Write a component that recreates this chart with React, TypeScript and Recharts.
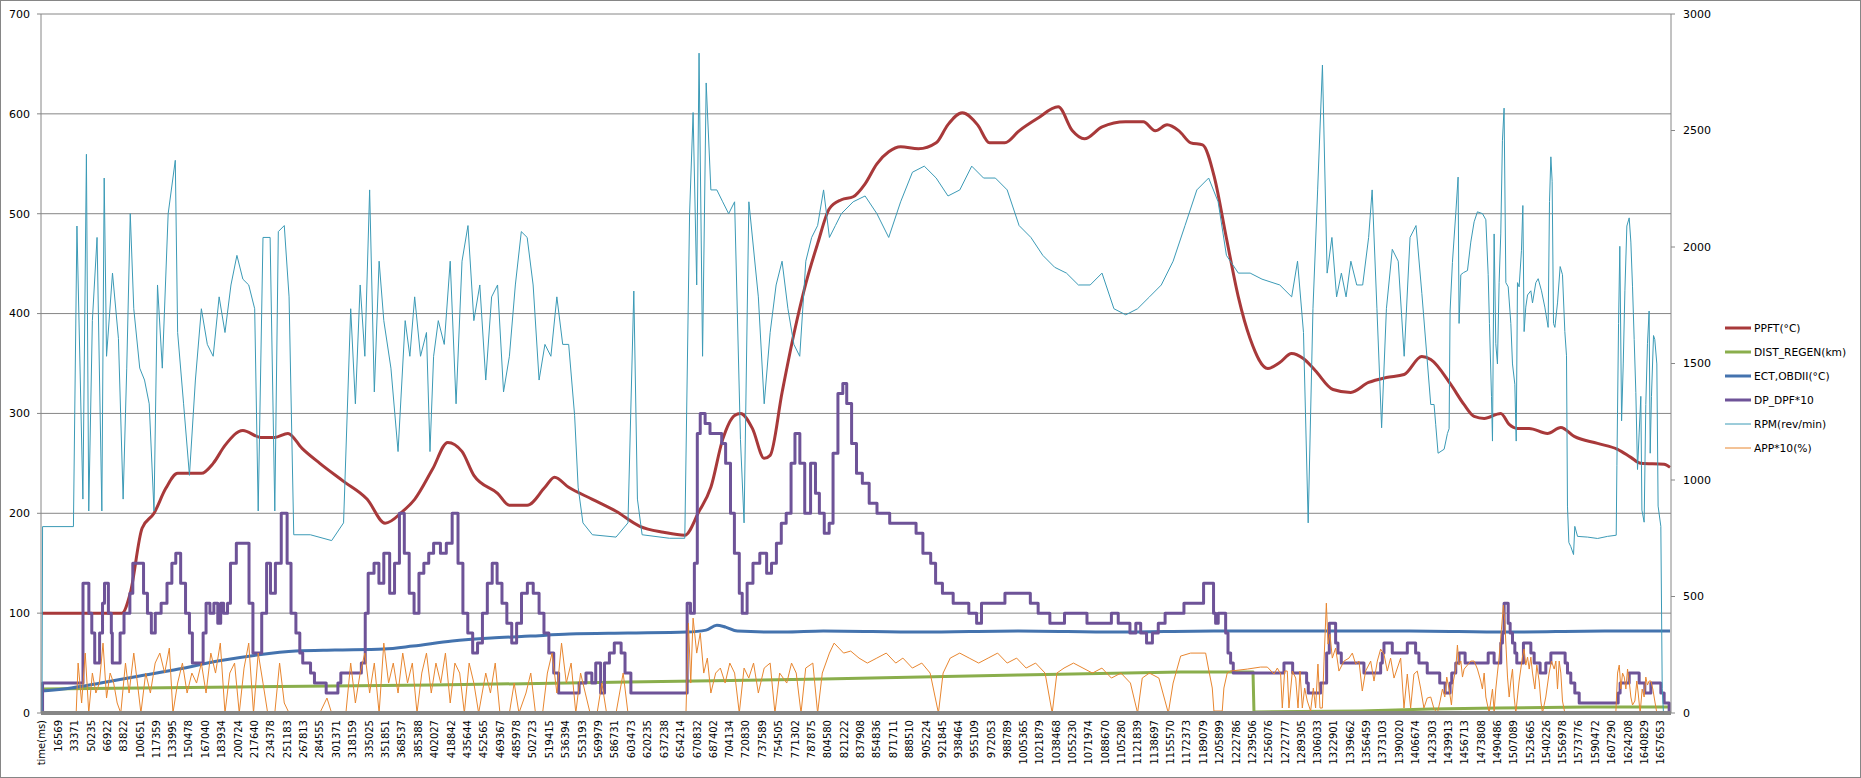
import React from 'react';
import { LineChart, Line, XAxis, YAxis, CartesianGrid, Legend } from 'recharts';

type Pt = [number, number];

// category labels of the time axis (ms); the first one is the header cell
const tickTimes = [
  0, 16569, 33371, 50235, 66922, 83822, 100651, 117359, 133995, 150478, 167040, 183934, 200724,
  217640, 234378, 251183, 267813, 284555, 301371, 318159, 335025, 351851, 368537, 385388, 402027,
  418842, 435644, 452565, 469367, 485978, 502723, 519415, 536394, 553193, 569979, 586731, 603473,
  620235, 637238, 654214, 670832, 687402, 704134, 720830, 737589, 754505, 771302, 787875, 804580,
  821222, 837908, 854836, 871711, 888510, 905224, 921845, 938464, 955109, 972053, 988789, 1005365,
  1021879, 1038468, 1055230, 1071974, 1088670, 1105280, 1121839, 1138697, 1155570, 1172373, 1189079,
  1205899, 1222786, 1239506, 1256076, 1272777, 1289305, 1306033, 1322901, 1339662, 1356459, 1373103,
  1390020, 1406674, 1423303, 1439913, 1456713, 1473808, 1490486, 1507089, 1523665, 1540226, 1556978,
  1573776, 1590472, 1607290, 1624208, 1640829, 1657653,
];
const headerLabel = 'time(ms)';

const leftTicks = [0, 100, 200, 300, 400, 500, 600, 700];
const rightTicks = [0, 500, 1000, 1500, 2000, 2500, 3000];

// [time ms, value]
const ppftPoints: Pt[] = [
  [0, 100], [81900, 100], [90400, 120], [102500, 185], [114700, 200], [126800, 225], [138900, 240],
  [151000, 240], [163200, 240], [175300, 250], [187400, 268], [205700, 283], [223800, 276],
  [238400, 276], [251800, 280], [266300, 265], [284500, 250], [308800, 232], [333000, 214],
  [351300, 190], [369400, 202], [381600, 214], [399800, 244], [415500, 271], [430000, 262],
  [442200, 238], [466500, 220], [478600, 208], [496800, 208], [515000, 226], [524800, 236],
  [539300, 226], [563600, 214], [587800, 202], [612100, 187], [636400, 181], [658200, 178],
  [672800, 202], [684900, 226], [697000, 274], [709200, 298], [715200, 300], [727400, 285],
  [739500, 255], [745600, 258], [757800, 321], [770000, 380], [782100, 430], [794200, 470],
  [806200, 505], [818500, 514], [830600, 517], [842800, 530], [854900, 550], [867000, 562],
  [879200, 567], [897400, 565], [915600, 571], [927500, 589], [942300, 601], [958000, 589],
  [970200, 571], [985900, 571], [1000500, 583], [1018700, 595], [1040600, 607], [1055100, 583],
  [1067300, 575], [1085500, 587], [1109500, 592], [1127700, 592], [1139900, 583], [1152000, 589],
  [1164200, 583], [1176300, 571], [1188400, 569], [1200600, 536], [1212700, 476], [1224900, 417],
  [1237000, 375], [1255200, 345], [1267400, 351], [1279500, 360], [1291500, 355], [1303700, 343],
  [1321900, 324], [1340100, 321], [1358300, 331], [1376500, 336], [1394700, 339], [1412800, 357],
  [1422000, 354], [1442500, 329], [1456000, 309], [1466400, 297], [1476700, 295], [1493700, 300],
  [1502300, 289], [1510800, 285], [1522800, 285], [1541500, 280], [1555200, 286], [1568900, 277],
  [1592800, 270], [1613300, 264], [1626900, 256], [1637100, 250], [1661000, 249], [1667000, 246],
];

const distRegenPoints: Pt[] = [
  [0, 24], [200000, 26], [400000, 28], [600000, 31], [800000, 34], [1000000, 38], [1166000, 41],
  [1240000, 41], [1241000, 1], [1350000, 2], [1422000, 4], [1490000, 5], [1582000, 6], [1667000, 6],
];

const ectPoints: Pt[] = [
  [0, 22], [30000, 25], [60000, 30], [100000, 37], [140000, 44], [180000, 52], [220000, 58],
  [260000, 62], [300000, 63], [350000, 64], [380000, 67], [420000, 72], [460000, 75], [500000, 77],
  [540000, 79], [600000, 80], [660000, 81], [680000, 83], [691000, 88], [700000, 86], [712000, 82],
  [760000, 81], [800000, 82], [900000, 81], [1000000, 82], [1100000, 81], [1200000, 82],
  [1300000, 82], [1400000, 82], [1500000, 81], [1600000, 82], [1667000, 82],
];

const dpDpfPoints: Pt[] = [
  [0, 0], [600, 30], [42000, 130], [48000, 100], [51000, 80], [54000, 50], [59000, 80], [62000, 110],
  [64000, 130], [68000, 100], [71000, 80], [72000, 50], [80000, 80], [84000, 100], [90000, 120],
  [93000, 150], [104000, 120], [108000, 100], [112000, 80], [116000, 100], [122000, 110],
  [128000, 130], [133000, 150], [137000, 160], [142000, 130], [147000, 100], [151000, 80],
  [154000, 50], [165000, 80], [168000, 110], [172000, 100], [176000, 110], [180000, 90],
  [183000, 110], [186000, 100], [190000, 110], [193000, 150], [199000, 170], [212000, 110],
  [216000, 60], [225000, 100], [230000, 150], [234000, 120], [239000, 150], [245000, 200],
  [251000, 150], [255000, 100], [260000, 80], [264000, 60], [267000, 50], [275000, 40],
  [279000, 30], [291000, 20], [303000, 30], [306000, 40], [327000, 50], [331000, 100],
  [334000, 140], [340000, 150], [345000, 130], [350000, 160], [356000, 120], [361000, 150],
  [366000, 200], [371000, 160], [376000, 120], [381000, 100], [386000, 140], [391000, 150],
  [396000, 160], [401000, 170], [408000, 160], [414000, 170], [420000, 200], [426000, 150],
  [431000, 100], [436000, 80], [441000, 60], [446000, 70], [451000, 100], [456000, 130],
  [461000, 150], [466000, 130], [471000, 110], [476000, 90], [481000, 70], [486000, 90],
  [491000, 120], [497000, 130], [503000, 120], [509000, 100], [514000, 80], [519000, 60],
  [524000, 40], [529000, 20], [550000, 30], [557000, 40], [563000, 30], [567000, 50], [572000, 20],
  [576000, 50], [581000, 60], [586000, 70], [593000, 60], [597000, 40], [603000, 20], [660600, 110],
  [664000, 100], [668000, 150], [671000, 280], [674000, 300], [679000, 290], [684000, 280],
  [696000, 270], [700000, 250], [705000, 200], [709000, 160], [714000, 120], [717000, 100],
  [722000, 130], [728000, 150], [735000, 160], [742000, 140], [747000, 150], [752000, 170],
  [757000, 190], [762000, 200], [767000, 250], [771000, 280], [776000, 250], [781000, 200],
  [787000, 250], [792000, 220], [796000, 200], [801000, 180], [806000, 190], [810000, 260],
  [815000, 320], [820000, 330], [824000, 310], [829000, 270], [834000, 240], [840000, 230],
  [847000, 210], [855000, 200], [868000, 190], [895000, 180], [902000, 160], [910000, 150],
  [915000, 130], [922000, 120], [933000, 110], [949000, 100], [957000, 90], [962000, 110],
  [986000, 120], [1012000, 110], [1020000, 100], [1032000, 90], [1047000, 100], [1070000, 90],
  [1095000, 100], [1102000, 90], [1114000, 80], [1120000, 90], [1125000, 80], [1131000, 70],
  [1137000, 80], [1143000, 90], [1150000, 100], [1169300, 110], [1189400, 130], [1199600, 100],
  [1201700, 90], [1204400, 100], [1212000, 80], [1214400, 60], [1217100, 50], [1219800, 40],
  [1271700, 50], [1280600, 40], [1294900, 30], [1296600, 20], [1309200, 30], [1315400, 60],
  [1318100, 90], [1324600, 70], [1327000, 60], [1330400, 50], [1353600, 40], [1370700, 50],
  [1372400, 60], [1374100, 70], [1382600, 60], [1398000, 70], [1406500, 60], [1409900, 50],
  [1418400, 40], [1431200, 30], [1436700, 20], [1441800, 30], [1443500, 40], [1447600, 50],
  [1451000, 60], [1457200, 50], [1480800, 60], [1486900, 50], [1493700, 70], [1495400, 80],
  [1497100, 110], [1501300, 90], [1503300, 80], [1505700, 70], [1508100, 60], [1510100, 50],
  [1516900, 70], [1524500, 60], [1527900, 50], [1534000, 40], [1539800, 50], [1545000, 60],
  [1559600, 50], [1562000, 40], [1565400, 30], [1569500, 20], [1574000, 10], [1613900, 20],
  [1615900, 30], [1625200, 40], [1635400, 30], [1641200, 20], [1647400, 30], [1657600, 20],
  [1661000, 10], [1666100, 0], [1667000, 0],
];

const rpmPoints: Pt[] = [
  [0, 0], [600, 800], [32200, 800], [35800, 2090], [41900, 918], [45500, 2398], [47900, 867],
  [51600, 1684], [56400, 2041], [61300, 867], [63700, 2296], [66100, 1531], [72200, 1888],
  [78300, 1607], [83100, 918], [86800, 1480], [90400, 2143], [94000, 1735], [100100, 1480],
  [105000, 1429], [109800, 1327], [114700, 867], [118300, 1837], [123200, 1480], [129200, 2143],
  [136500, 2372], [138900, 1633], [145000, 1327], [151000, 1020], [157100, 1429], [163200, 1735],
  [169300, 1582], [175300, 1531], [181400, 1786], [187400, 1633], [193500, 1837], [199600, 1964],
  [205700, 1862], [211700, 1837], [217800, 1735], [221400, 867], [226300, 2041], [233600, 2041],
  [238400, 867], [242000, 2066], [248100, 2092], [253000, 1786], [257800, 765], [274800, 765],
  [296600, 740], [308800, 816], [316100, 1735], [320900, 1327], [325800, 1837], [330600, 1531],
  [335500, 2245], [340300, 1378], [345200, 1939], [350000, 1684], [357300, 1480], [364600, 1122],
  [371900, 1684], [376700, 1531], [381600, 1786], [387600, 1531], [393700, 1633], [397300, 1122],
  [401000, 1531], [405800, 1684], [411900, 1582], [418000, 1939], [424000, 1327], [430100, 1939],
  [436200, 2092], [442200, 1684], [448300, 1837], [454400, 1429], [460400, 1786], [466500, 1837],
  [472600, 1378], [478600, 1531], [484700, 1837], [490800, 2066], [496800, 2041], [502900, 1837],
  [509000, 1429], [515000, 1582], [521100, 1531], [527200, 1786], [533200, 1582], [539300, 1582],
  [545400, 1276], [549000, 969], [553900, 816], [563600, 765], [587800, 755], [600000, 816],
  [606000, 1811], [609700, 918], [614500, 765], [642400, 750], [658200, 750], [663100, 2143],
  [666700, 2577], [670400, 1837], [672800, 2832], [676400, 1531], [680100, 2704], [684900, 2245],
  [691000, 2245], [697000, 2194], [703100, 2143], [709200, 2194], [715200, 1173], [718900, 816],
  [723800, 2194], [733500, 1786], [739500, 1327], [745600, 1633], [751700, 1837], [757800, 1939],
  [763800, 1735], [769900, 1582], [775900, 1531], [782100, 1939], [788100, 2041], [794200, 2092],
  [800300, 2245], [806300, 2041], [812400, 2092], [818500, 2143], [830600, 2194], [842800, 2219],
  [854900, 2143], [867000, 2041], [879200, 2194], [891300, 2321], [903400, 2347], [915600, 2296],
  [927700, 2219], [939800, 2245], [952000, 2347], [964100, 2296], [976200, 2296], [988300, 2245],
  [1000500, 2092], [1012600, 2041], [1024800, 1964], [1036900, 1913], [1049000, 1888],
  [1061200, 1837], [1073300, 1837], [1085400, 1888], [1097600, 1735], [1109700, 1709],
  [1121800, 1735], [1134000, 1786], [1146100, 1837], [1158200, 1939], [1170400, 2092],
  [1182500, 2245], [1194600, 2296], [1204300, 2194], [1212800, 1964], [1225000, 1888],
  [1237100, 1888], [1249200, 1862], [1267400, 1837], [1279600, 1786], [1285600, 1939],
  [1291700, 1633], [1296500, 816], [1301400, 1735], [1306200, 2245], [1311100, 2781],
  [1315900, 1888], [1320800, 2041], [1325600, 1786], [1330500, 1888], [1335300, 1786],
  [1340200, 1939], [1346200, 1837], [1352300, 1837], [1358400, 2041], [1362000, 2245],
  [1366900, 1735], [1371700, 1224], [1376600, 1735], [1382600, 1990], [1388700, 1939],
  [1394800, 1531], [1400800, 2041], [1406900, 2092], [1412900, 1800], [1422000, 1324],
  [1425400, 1324], [1427100, 1237], [1429500, 1115], [1435700, 1132], [1439100, 1200],
  [1440800, 1220], [1441800, 1725], [1444200, 1934], [1447600, 2143], [1450000, 2300],
  [1451000, 1672], [1452800, 1881], [1455500, 1890], [1459600, 1899], [1463000, 2021],
  [1466400, 2108], [1469800, 2151], [1475000, 2143], [1478400, 2117], [1480800, 1881],
  [1482100, 1672], [1484200, 1359], [1485200, 1167], [1486900, 2056], [1488600, 1585],
  [1490300, 1498], [1492000, 1847], [1493700, 2056], [1495400, 2456], [1497100, 2596],
  [1498900, 1847], [1501300, 1829], [1504000, 1672], [1505700, 1498], [1508100, 1411],
  [1509500, 1167], [1510800, 1847], [1512500, 1829], [1514900, 1986], [1516300, 2178],
  [1517600, 1637], [1519300, 1742], [1521100, 1794], [1524500, 1812], [1526200, 1760],
  [1529600, 1847], [1532000, 1864], [1535400, 1812], [1538800, 1742], [1542200, 1655],
  [1543600, 2195], [1545000, 2387], [1546300, 2282], [1547700, 1672], [1549100, 1655],
  [1551800, 1760], [1554500, 1916], [1556900, 1881], [1559300, 1637], [1561000, 1533],
  [1562000, 888], [1563400, 732], [1565400, 714], [1568200, 680], [1569500, 801], [1572300, 758],
  [1582500, 755], [1592800, 749], [1603000, 758], [1611900, 763], [1612600, 1063], [1614300, 1672],
  [1615600, 2003], [1617400, 1254], [1619100, 1498], [1620800, 1812], [1622800, 2090],
  [1625200, 2125], [1626900, 2021], [1628600, 1829], [1630300, 1603], [1632000, 1376],
  [1633700, 1045], [1635400, 1202], [1637100, 1359], [1638200, 871], [1640500, 819],
  [1642200, 1324], [1643900, 1585], [1645600, 1725], [1646700, 1115], [1648000, 1359],
  [1650100, 1620], [1651400, 1603], [1653500, 1498], [1654800, 888], [1657600, 801],
  [1659000, 105], [1660300, 0], [1667000, 0],
];

const appPoints: Pt[] = [
  [0, 0], [35000, 0], [37000, 50], [40600, 10], [44300, 60], [47900, 0], [51600, 40], [55200, 20],
  [58800, 30], [62500, 70], [66100, 15], [69800, 40], [73400, 30], [77000, 10], [80700, 0],
  [85500, 50], [89200, 20], [94000, 60], [97700, 30], [101300, 0], [106200, 40], [111000, 20],
  [115900, 50], [120700, 60], [125600, 40], [130400, 65], [134100, 0], [138900, 30], [143800, 50],
  [148600, 20], [153500, 40], [158300, 30], [163200, 50], [168000, 20], [172900, 60], [177700, 40],
  [182600, 70], [187400, 0], [192300, 40], [197200, 50], [202000, 0], [206900, 45], [211700, 70],
  [216600, 0], [221400, 60], [226300, 30], [231100, 0], [238400, 0], [243300, 50], [248100, 10],
  [253000, 0], [284500, 0], [291800, 15], [296600, 0], [311200, 0], [316100, 50], [320900, 10],
  [325800, 40], [330600, 60], [335500, 20], [340300, 50], [345200, 0], [350000, 70], [354900, 30],
  [359700, 50], [364600, 20], [369400, 60], [374300, 30], [379200, 50], [384000, 0], [388900, 40],
  [393700, 60], [398600, 20], [403400, 50], [408300, 30], [413100, 60], [418000, 10], [422800, 50],
  [427700, 40], [432500, 0], [437400, 50], [442200, 30], [447100, 0], [454400, 40], [459200, 20],
  [464100, 50], [468900, 0], [478600, 0], [483500, 30], [488400, 0], [495600, 20], [500500, 40],
  [505300, 0], [512600, 0], [517500, 40], [522300, 60], [527200, 20], [532000, 70], [536900, 30],
  [541800, 50], [546600, 0], [551500, 40], [556300, 20], [561200, 0], [568400, 0], [573300, 30],
  [578100, 0], [587800, 0], [595100, 40], [600000, 0], [659400, 0], [661900, 90], [664300, 30],
  [666700, 95], [670400, 60], [674000, 80], [677600, 40], [681300, 55], [684900, 20], [689800, 40],
  [694600, 45], [699500, 30], [704300, 50], [709200, 40], [714000, 0], [718900, 45], [723700, 35],
  [728600, 50], [733500, 20], [739500, 45], [745600, 50], [750500, 0], [755300, 40], [762600, 30],
  [767500, 50], [772300, 40], [777200, 0], [782000, 45], [789300, 50], [794200, 0], [799000, 40],
  [806300, 60], [811100, 70], [816000, 65], [820800, 60], [828100, 62], [836600, 55], [845100, 50],
  [854800, 55], [864500, 60], [874200, 50], [881500, 55], [891200, 45], [900900, 50], [909400, 40],
  [917900, 0], [922700, 40], [930000, 55], [939700, 60], [949400, 55], [959100, 50], [968800, 55],
  [978500, 60], [988300, 50], [998000, 55], [1007700, 45], [1017400, 50], [1027100, 40],
  [1034400, 0], [1039200, 40], [1046500, 45], [1056200, 50], [1065900, 45], [1075600, 40],
  [1085300, 45], [1095000, 35], [1104800, 40], [1114500, 30], [1121800, 0], [1126600, 35],
  [1133900, 40], [1143600, 35], [1153300, 0], [1158200, 30], [1165900, 57], [1176100, 60],
  [1191500, 60], [1194900, 42], [1198300, 25], [1200000, 2], [1208500, 2], [1210200, 25],
  [1213600, 40], [1217100, 42], [1234200, 44], [1247800, 46], [1254700, 46], [1261500, 39],
  [1264900, 45], [1268300, 39], [1270000, 5], [1272400, 42], [1275100, 42], [1276800, 5],
  [1280300, 42], [1283700, 35], [1286100, 5], [1288100, 42], [1290500, 5], [1292900, 25],
  [1295600, 12], [1299000, 2], [1301800, 25], [1304100, 5], [1306500, 49], [1308600, 5],
  [1311000, 5], [1312700, 52], [1315100, 110], [1316800, 69], [1318800, 79], [1321200, 55],
  [1324600, 65], [1328000, 42], [1333200, 52], [1338300, 55], [1341700, 60], [1345100, 49],
  [1348500, 52], [1351900, 22], [1355300, 42], [1360500, 52], [1363900, 32], [1367300, 52],
  [1370700, 64], [1374100, 59], [1377500, 42], [1380900, 55], [1384400, 35], [1391200, 55],
  [1394600, 5], [1398000, 39], [1401400, 5], [1404800, 39], [1408200, 42], [1411600, 25],
  [1415000, 5], [1418400, 15], [1422000, 16], [1425400, 4], [1428800, 0], [1431600, 12],
  [1434000, 24], [1436400, 16], [1438400, 36], [1440800, 24], [1443200, 8], [1445200, 32],
  [1447600, 44], [1449300, 68], [1451000, 48], [1452800, 52], [1454500, 36], [1456200, 44],
  [1459600, 48], [1463000, 52], [1466400, 52], [1469800, 44], [1473200, 32], [1474900, 24],
  [1476700, 40], [1478400, 16], [1481800, 0], [1485200, 24], [1486900, 2], [1488600, 24],
  [1490300, 40], [1492000, 56], [1494400, 84], [1496400, 108], [1497800, 92], [1499200, 64],
  [1500600, 36], [1502300, 16], [1504000, 32], [1505700, 44], [1507400, 16], [1509100, 0],
  [1512500, 32], [1514200, 44], [1515900, 56], [1517600, 64], [1519300, 48], [1521100, 56],
  [1522800, 44], [1524500, 56], [1526200, 40], [1528600, 24], [1530600, 48], [1533000, 32],
  [1534700, 12], [1536400, 0], [1539800, 16], [1543200, 40], [1545600, 52], [1548400, 44],
  [1550100, 52], [1551800, 24], [1553500, 52], [1555200, 40], [1556900, 12], [1559300, 0],
  [1611500, 0], [1613300, 40], [1615000, 48], [1616700, 24], [1618400, 40], [1620100, 36],
  [1621800, 24], [1623500, 44], [1625200, 32], [1626900, 16], [1628600, 8], [1631000, 12],
  [1633000, 32], [1634400, 20], [1636400, 0], [1638500, 24], [1640500, 16], [1642200, 36],
  [1643900, 28], [1645600, 32], [1647400, 32], [1649400, 24], [1651400, 12], [1653500, 0],
  [1668000, 0],
];

const FONT = '"DejaVu Sans", Verdana, sans-serif';
const AXIS_GREY = '#868686';

const series = [
  { key: 'ppft', name: 'PPFT(°C)', points: ppftPoints, color: '#A8393A', width: 3, axis: 'left', curve: 'monotone' },
  { key: 'dist', name: 'DIST_REGEN(km)', points: distRegenPoints, color: '#8AAE4C', width: 3, axis: 'left', curve: 'linear' },
  { key: 'ect', name: 'ECT,OBDII(°C)', points: ectPoints, color: '#4473AE', width: 3, axis: 'left', curve: 'monotone' },
  { key: 'dp', name: 'DP_DPF*10', points: dpDpfPoints, color: '#6E5398', width: 3, axis: 'left', curve: 'stepAfter' },
  { key: 'rpm', name: 'RPM(rev/min)', points: rpmPoints, color: '#3B9AB6', width: 1, axis: 'right', curve: 'linear' },
  { key: 'app', name: 'APP*10(%)', points: appPoints, color: '#E8862F', width: 1, axis: 'left', curve: 'linear' },
] as const;

const toRows = (pts: readonly Pt[]) => pts.map(([t, v]) => ({ t, v }));

function TimeTick(props: any) {
  const { x, y, payload } = props;
  const label = payload.value === 0 ? headerLabel : String(payload.value);
  return (
    <text
      x={x}
      y={y}
      transform={`rotate(-90 ${x} ${y})`}
      textAnchor="end"
      dominantBaseline="central"
      fontSize={10}
      fontFamily={FONT}
      fill="#000"
    >
      {label}
    </text>
  );
}

function ExcelLegend() {
  return (
    <div style={{ fontFamily: FONT, fontSize: 10.7, color: '#000' }}>
      {series.map((s) => (
        <div key={s.key} style={{ display: 'flex', alignItems: 'center', height: 24 }}>
          <svg width={29} height={8} style={{ flex: 'none' }}>
            <line x1={0} y1={4} x2={26} y2={4} stroke={s.color} strokeWidth={s.width} />
          </svg>
          <span style={{ whiteSpace: 'nowrap' }}>{s.name}</span>
        </div>
      ))}
    </div>
  );
}

export default function App() {
  return (
    <div
      style={{
        position: 'absolute',
        left: 0,
        top: 0,
        width: 1861,
        height: 778,
        background: '#fff',
        outline: `1px solid ${AXIS_GREY}`,
        outlineOffset: -1,
        fontFamily: FONT,
      }}
    >
      <LineChart width={1861} height={778} margin={{ top: 14, right: 0, bottom: 1, left: 0 }}>
        <CartesianGrid yAxisId="left" vertical={false} stroke={AXIS_GREY} strokeWidth={1} />
        <XAxis
          type="number"
          dataKey="t"
          domain={[-1000, 1668000]}
          allowDataOverflow
          ticks={tickTimes}
          interval={0}
          height={64}
          tickSize={0}
          tickMargin={7}
          tickLine={false}
          axisLine={{ stroke: AXIS_GREY, strokeWidth: 4 }}
          tick={<TimeTick />}
        />
        <YAxis
          yAxisId="left"
          orientation="left"
          domain={[0, 700]}
          ticks={leftTicks}
          interval={0}
          allowDataOverflow
          width={41}
          tickSize={4}
          tickMargin={7}
          axisLine={{ stroke: AXIS_GREY }}
          tickLine={{ stroke: AXIS_GREY }}
          tick={{ fontSize: 11, fontFamily: FONT, fill: '#000' }}
        />
        <YAxis
          yAxisId="right"
          orientation="right"
          domain={[0, 3000]}
          ticks={rightTicks}
          interval={0}
          allowDataOverflow
          width={190}
          tickSize={4}
          tickMargin={8}
          axisLine={{ stroke: AXIS_GREY }}
          tickLine={{ stroke: AXIS_GREY }}
          tick={{ fontSize: 11, fontFamily: FONT, fill: '#000' }}
        />
        <Legend
          layout="horizontal"
          verticalAlign="middle"
          align="center"
          content={<ExcelLegend />}
          wrapperStyle={{ left: 1725, top: 316, width: 136 }}
        />
        {series.map((s) => (
          <Line
            key={s.key}
            name={s.name}
            yAxisId={s.axis}
            data={toRows(s.points)}
            dataKey="v"
            type={s.curve}
            stroke={s.color}
            strokeWidth={s.width}
            strokeLinejoin="round"
            dot={false}
            activeDot={false}
            isAnimationActive={false}
          />
        ))}
      </LineChart>
    </div>
  );
}
